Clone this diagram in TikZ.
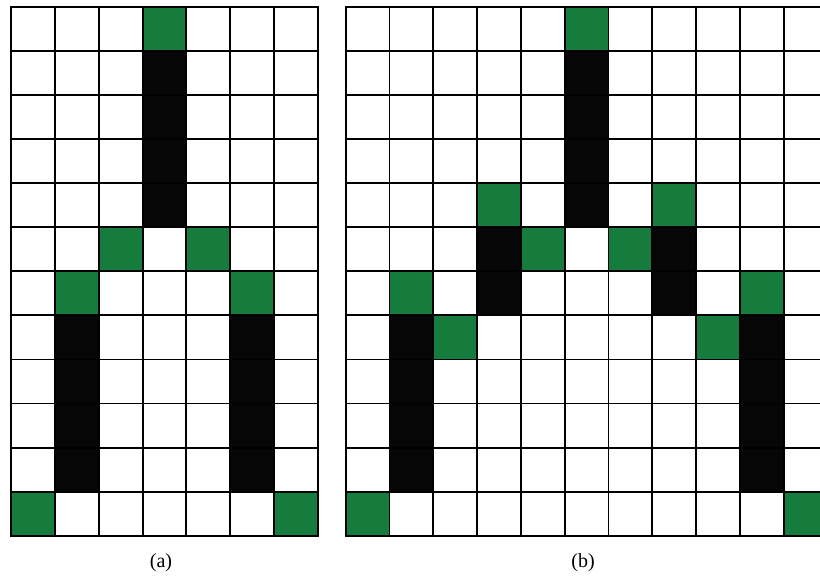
\documentclass[tikz,border=0pt]{standalone}
\usepackage{fontspec}
\usepackage{xcolor}
\usepackage{tikz}

\setmainfont{Liberation Serif}
\definecolor{cellgreen}{RGB}{22,124,62}
\definecolor{cellblack}{RGB}{6,6,6}

\begin{document}
\begin{tikzpicture}[
    x=1pt, y=-1pt,
    greencell/.style={fill=cellgreen},
    blackcell/.style={fill=cellblack},
    gridline/.style={draw=black, line width=1.9pt, line cap=rect},
    caption/.style={font=\fontsize{20}{24}\selectfont, inner sep=0pt}
]
\useasboundingbox (0,0) rectangle (820,577);
\clip (0,0) rectangle (820,577);

% grid (a)
\begin{scope}[shift={(11,7)}, x=43.86pt, y=-44.06pt]
\foreach \c/\r in {3/0, 2/5, 4/5, 1/6, 5/6, 0/11, 6/11}
    \fill[greencell] (\c,\r) rectangle ++(1,1);
\foreach \r in {1,...,4}
    \fill[blackcell] (3,\r) rectangle ++(1,1);
\foreach \r in {7,...,10} {
    \fill[blackcell] (1,\r) rectangle ++(1,1);
    \fill[blackcell] (5,\r) rectangle ++(1,1);
}
\foreach \c in {0,...,7}
    \draw[gridline] (\c,0) -- (\c,12);
\foreach \r in {0,...,12}
    \draw[gridline] (0,\r) -- (7,\r);
\end{scope}

% grid (b)
\begin{scope}[shift={(345.7,7)}, x=43.8pt, y=-44.06pt]
\foreach \c/\r in {5/0, 3/4, 7/4, 4/5, 6/5, 1/6, 9/6, 2/7, 8/7, 0/11, 10/11}
    \fill[greencell] (\c,\r) rectangle ++(1,1);
\foreach \r in {1,...,4}
    \fill[blackcell] (5,\r) rectangle ++(1,1);
\foreach \r in {5,6} {
    \fill[blackcell] (3,\r) rectangle ++(1,1);
    \fill[blackcell] (7,\r) rectangle ++(1,1);
}
\foreach \r in {7,...,10} {
    \fill[blackcell] (1,\r) rectangle ++(1,1);
    \fill[blackcell] (9,\r) rectangle ++(1,1);
}
\foreach \c in {0,...,11}
    \draw[gridline] (\c,0) -- (\c,12);
\foreach \r in {0,...,12}
    \draw[gridline] (0,\r) -- (11,\r);
\end{scope}

\node[caption] (labela) at (161,563) {(a)};
\node[caption] (labelb) at (583,563) {(b)};
\end{tikzpicture}
\end{document}
